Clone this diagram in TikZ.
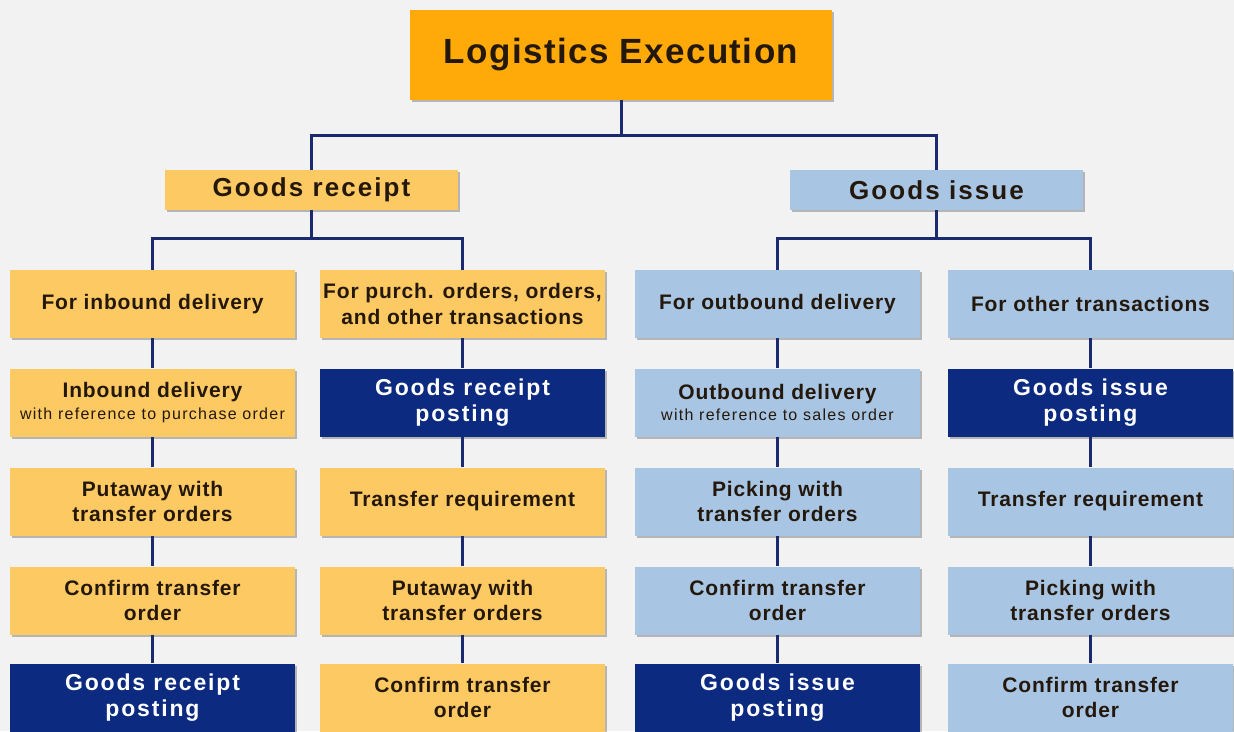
\documentclass[tikz,border=0pt]{standalone}
\usepackage{fontspec}
\setmainfont{Liberation Sans}
\newfontfamily\loosefont{Liberation Sans}[LetterSpace=4]
\newfontfamily\widefont{Liberation Sans}[LetterSpace=8]
\usetikzlibrary{shadows}

\definecolor{bggray}{HTML}{F2F2F2}
\definecolor{topamber}{HTML}{FFAA08}
\definecolor{recvamber}{HTML}{FDC962}
\definecolor{issueblue}{HTML}{A8C6E4}
\definecolor{postnavy}{HTML}{0B2A80}
\definecolor{linknavy}{HTML}{1B2A6E}
\definecolor{inkdark}{HTML}{24180C}

\tikzset{
  box/.style={minimum width=285pt, minimum height=68pt, inner sep=1pt,
    align=center, text=inkdark, font=\loosefont\bfseries\fontsize{21}{25.5}\selectfont,
    drop shadow={shadow xshift=2pt, shadow yshift=-2pt, fill=black, opacity=.25}},
  recv/.style={box, fill=recvamber},
  issu/.style={box, fill=issueblue},
  post/.style={box, fill=postnavy, text=white,
    font=\widefont\bfseries\fontsize{23}{26.5}\selectfont},
  head/.style={box, minimum width=293pt, minimum height=40pt,
    font=\widefont\bfseries\fontsize{26}{30}\selectfont},
  link/.style={draw=linknavy, line width=3pt},
}
\newcommand{\smallnote}[1]{\\[-4pt]{\widefont\mdseries\fontsize{16}{18}\selectfont #1}}

\begin{document}
\begin{tikzpicture}[x=1pt, y=-1pt]
  \fill[bggray] (0,0) rectangle (1234,731);
  \useasboundingbox (0,0) rectangle (1234,731);

  % top level
  \node[box, fill=topamber, minimum width=422pt, minimum height=90pt,
        font=\loosefont\bfseries\fontsize{35}{40}\selectfont] (logex) at (621,55) {Logistics Execution};

  % second level
  \node[head, fill=recvamber] (recv) at (311.5,190) {Goods receipt};
  \node[head, fill=issueblue] (issu) at (936.5,190) {Goods issue};

  % goods receipt, inbound delivery
  \node[recv] (r1a) at (152.5,304) {For inbound delivery};
  \node[recv] (r1b) at (152.5,402.5) {Inbound delivery\smallnote{with reference to purchase order}};
  \node[recv] (r1c) at (152.5,501.5) {Putaway with\\transfer orders};
  \node[recv] (r1d) at (152.5,600.5) {Confirm transfer\\order};
  \node[post] (r1e) at (152.5,697.5) {Goods receipt\\posting};

  % goods receipt, other
  \node[recv] (r2a) at (462.5,304) {For purch. orders, orders,\\and other transactions};
  \node[post] (r2b) at (462.5,402.5) {Goods receipt\\posting};
  \node[recv] (r2c) at (462.5,501.5) {Transfer requirement};
  \node[recv] (r2d) at (462.5,600.5) {Putaway with\\transfer orders};
  \node[recv] (r2e) at (462.5,697.5) {Confirm transfer\\order};

  % goods issue, outbound delivery
  \node[issu] (i1a) at (777.5,304) {For outbound delivery};
  \node[issu] (i1b) at (777.5,402.5) {Outbound delivery\smallnote{with reference to sales order}};
  \node[issu] (i1c) at (777.5,501.5) {Picking with\\transfer orders};
  \node[issu] (i1d) at (777.5,600.5) {Confirm transfer\\order};
  \node[post] (i1e) at (777.5,697.5) {Goods issue\\posting};

  % goods issue, other
  \node[issu] (i2a) at (1090.5,304) {For other transactions};
  \node[post] (i2b) at (1090.5,402.5) {Goods issue\\posting};
  \node[issu] (i2c) at (1090.5,501.5) {Transfer requirement};
  \node[issu] (i2d) at (1090.5,600.5) {Picking with\\transfer orders};
  \node[issu] (i2e) at (1090.5,697.5) {Confirm transfer\\order};

  % connectors
  \coordinate (busa) at (621,135);
  \coordinate (busb) at (311.5,238);
  \coordinate (busc) at (936.5,238);
  \draw[link] (logex.south) -- (busa) -| (recv.north);
  \draw[link] (busa) -| (issu.north);
  \draw[link] (recv.south) -- (busb) -| (r1a.north);
  \draw[link] (busb) -| (r2a.north);
  \draw[link] (issu.south) -- (busc) -| (i1a.north);
  \draw[link] (busc) -| (i2a.north);
  \foreach \c in {r1,r2,i1,i2}{
    \draw[link] (\c a) -- (\c b);
    \draw[link] (\c b) -- (\c c);
    \draw[link] (\c c) -- (\c d);
    \draw[link] (\c d) -- (\c e);
  }
\end{tikzpicture}
\end{document}
